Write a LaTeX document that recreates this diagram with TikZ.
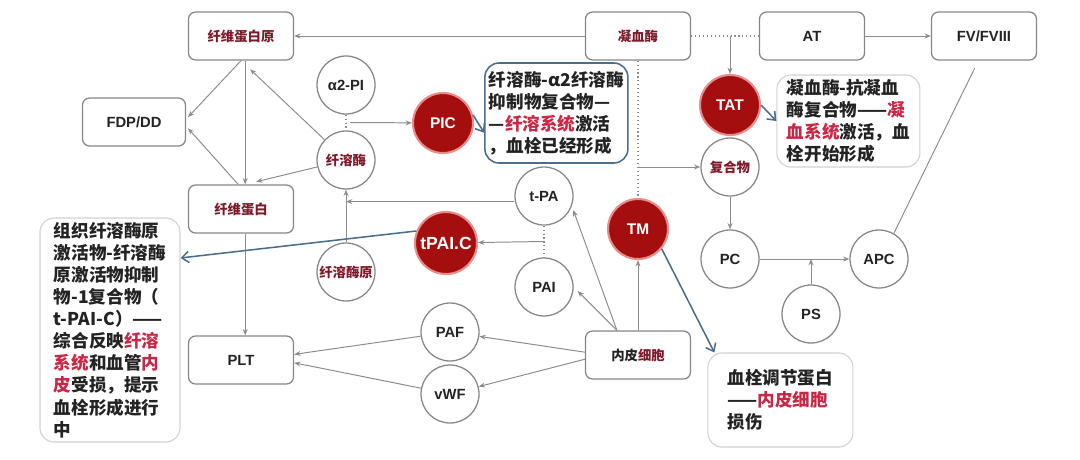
\documentclass[tikz,border=0pt]{standalone}
\usepackage{fontspec}
\setmainfont{Liberation Sans}
\newfontfamily\cjk{Noto Sans CJK SC}
\usetikzlibrary{arrows.meta, positioning, calc}

\definecolor{linegray}{RGB}{140,140,140}
\definecolor{boxgray}{RGB}{135,135,135}
\definecolor{blood}{RGB}{165,14,14}
\definecolor{glow}{RGB}{232,140,140}
\definecolor{labelred}{RGB}{125,25,40}
\definecolor{hotred}{RGB}{200,40,70}
\definecolor{noteblue}{RGB}{75,110,140}
\definecolor{ink}{RGB}{35,35,35}
\newcommand{\redtxt}[1]{\textcolor{hotred}{#1}}

\begin{document}
\begin{tikzpicture}[
      box/.style={rectangle, draw=boxgray, line width=0.9pt, rounded corners=5pt, fill=white, minimum width=2.625cm, minimum height=1.2cm, text=ink, font=\bfseries\fontsize{10.5}{13}\selectfont},
      cnbox/.style={box, text=labelred, font=\cjk\bfseries\fontsize{9.5}{11}\selectfont},
      bubble/.style={circle, draw=boxgray, line width=0.9pt, fill=white, minimum size=1.45cm, inner sep=0pt, text=ink, font=\bfseries\fontsize{10.5}{13}\selectfont},
      cnbubble/.style={bubble, text=labelred, font=\cjk\bfseries\fontsize{9.5}{11}\selectfont},
      hot/.style={circle, draw=glow, line width=1.5pt, fill=blood, minimum size=1.5cm, inner sep=0pt, text=white, font=\bfseries\fontsize{11}{13}\selectfont},
      note/.style={rectangle, draw=gray!35, line width=0.8pt, rounded corners=10pt, fill=white, align=left, inner sep=0pt, text=ink, font=\cjk\bfseries\fontsize{12.5}{15.7}\selectfont},
      arrow/.style={-{Stealth[length=4.5pt,width=3.5pt]}, draw=linegray, line width=0.7pt},
      link/.style={draw=linegray, line width=0.8pt, dotted},
      blink/.style={-{Straight Barb[length=5pt,width=8pt]}, draw=noteblue, line width=1.1pt}]

      \useasboundingbox (0,0) rectangle (27,11.475);

      % Boxes
      \node[cnbox] (fibgen) at (6.025,10.575) {纤维蛋白原};
      \node[cnbox] (thrombin) at (15.95,10.575) {凝血酶};
      \node[box] (at) at (20.3,10.575) {AT};
      \node[box] (fv) at (24.6,10.575) {FV/FVIII};
      \node[box, minimum width=2.575cm] (fdp) at (3.35,8.425) {FDP/DD};
      \node[cnbox] (fib) at (6.025,6.25) {纤维蛋白};
      \node[box] (plt) at (6.025,2.475) {PLT};
      \node[cnbox, text=ink] (endo) at (15.95,2.6) {内皮\textcolor{labelred}{细胞}};

      % Circles
      \node[bubble] (a2pi) at (8.65,9.35) {α2-PI};
      \node[cnbubble] (plasmin) at (8.65,7.475) {纤溶酶};
      \node[cnbubble] (plg) at (8.65,4.675) {纤溶酶原};
      \node[hot] (pic) at (11.075,8.4) {PIC};
      \node[bubble] (tpa) at (13.6,6.575) {t-PA};
      \node[bubble] (pai) at (13.6,4.3) {PAI};
      \node[hot, minimum size=1.55cm, font=\bfseries\fontsize{12.5}{14}\selectfont] (tpaic) at (11.15,5.4) {tPAI.C};
      \node[bubble] (paf) at (11.25,3.175) {PAF};
      \node[bubble] (vwf) at (11.25,1.625) {vWF};
      \node[hot] (tm) at (15.95,5.75) {TM};
      \node[hot] (tat) at (18.25,8.85) {TAT};
      \node[cnbubble] (complex) at (18.25,7.3) {复合物};
      \node[bubble] (pc) at (18.25,5.0) {PC};
      \node[bubble] (apc) at (21.975,5.0) {APC};
      \node[bubble] (ps) at (20.275,3.625) {PS};

      % Annotations
      \node[note, draw=noteblue, line width=1.1pt, minimum width=3.575cm, minimum height=2.5cm] (pictext) at (13.91,8.65)
        {纤溶酶-α2纤溶酶\\抑制物复合物—\\—\redtxt{纤溶系统}激活\\，血栓已经形成};
      \node[note, minimum width=3.575cm, minimum height=2.3cm] (tattext) at (21.21,8.45)
        {凝血酶-抗凝血\\酶复合物——\redtxt{凝}\\\redtxt{血系统}激活，血\\栓开始形成};
      \node[note, minimum width=3.625cm, minimum height=2.35cm] (tmtext) at (19.51,1.475)
        {血栓调节蛋白\\——\redtxt{内皮细胞}\\损伤};
      \node[note, minimum width=3.5cm, minimum height=5.6cm] (tpaictext) at (2.75,3.225)
        {组织纤溶酶原\\激活物-纤溶酶\\原激活物抑制\\物-1复合物（\\t-PAI-C）——\\综合反映\redtxt{纤溶}\\\redtxt{系统}和血管\redtxt{内}\\\redtxt{皮}受损，提示\\血栓形成进行\\中};

      % Arrows
      \draw[arrow] (thrombin) -- (fibgen);
      \draw[arrow, shorten >=2pt] (fibgen.south) -- ([yshift=2pt]fdp.east);
      \draw[arrow, shorten >=2pt] ([xshift=-2pt]fib.north) -- ([yshift=-3pt]fdp.east);
      \draw[arrow] ([xshift=3pt]fibgen.south) -- ([xshift=3pt]fib.north);
      \draw[arrow] ([xshift=3pt]fib.south) -- ([xshift=3pt]plt.north);
      \draw[arrow, shorten >=9pt] (plasmin) -- (fibgen.south);
      \draw[arrow, shorten >=8pt] (plasmin) -- ([xshift=3pt]fib.north);

      \draw[link] (a2pi) -- (plasmin);
      \coordinate (a2mid) at ($(a2pi.south)!0.5!(plasmin.north)$);
      \draw[arrow] ([xshift=3pt]a2mid) -- (pic);
      \draw[blink] (pic.15) -- ([yshift=-14pt]pictext.west);

      \draw[arrow] (plg) -- (plasmin);
      \draw[arrow] ([yshift=-4pt]tpa.west) -- ([yshift=-4pt]tpa.west -| plg);
      \draw[link] (tpa) -- (pai);
      \coordinate (tpamid) at ($(tpa.south)!0.5!(pai.north)$);
      \draw[arrow] (tpamid) -- (tpaic);
      \draw[blink] (tpaic.158) -- ($(tpaictext.north east)!0.18!(tpaictext.south east)$);

      \draw[arrow] (paf) -- ([yshift=4pt]plt.east);
      \draw[arrow] (vwf) -- ([yshift=-2pt]plt.east);
      \draw[arrow] ([yshift=2pt]endo.west) -- (paf);
      \draw[arrow] ([yshift=-3pt]endo.west) -- (vwf);
      \foreach \t/\s in {pai.east/4pt, tpa.-20/3pt} {
        \draw[arrow, shorten >=\s] ([xshift=-15pt]endo.north) -- (\t);
      }
      \draw[arrow] (endo) -- (tm);
      \draw[blink] (tm.-40) -- ([xshift=5pt]tmtext.north west);

      \draw[link] (thrombin) -- (tm);
      \draw[arrow] (thrombin |- complex) -- (complex);
      \draw[link] (thrombin) -- (at);
      \draw[arrow] (tat |- thrombin) -- (tat);
      \draw[blink] (tat.east) -- (tattext.west);
      \draw[arrow] (at) -- (fv);
      \draw[arrow] (complex) -- (pc);
      \draw[arrow] (pc) -- (apc);
      \draw[arrow] (ps) -- (ps |- pc);
      \draw[linegray, line width=0.7pt, shorten >=6pt] (apc.60) -- ([xshift=-4pt]fv.south);
    \end{tikzpicture}
\end{document}
